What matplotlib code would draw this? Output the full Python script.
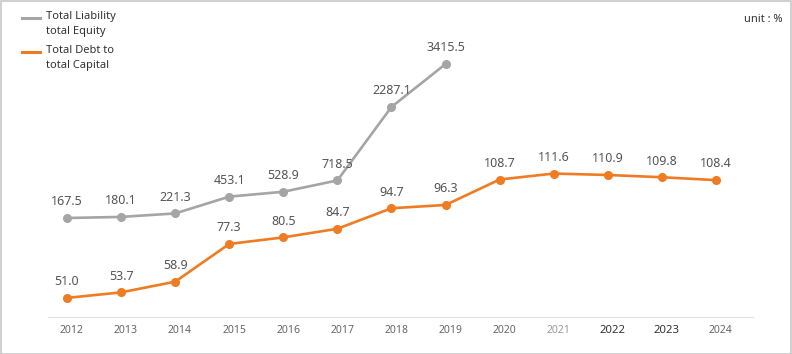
import numpy as np
import matplotlib
matplotlib.use("Agg")
import matplotlib.pyplot as plt
from matplotlib.lines import Line2D
from matplotlib.patches import Rectangle

years = [2012, 2013, 2014, 2015, 2016, 2017, 2018, 2019, 2020, 2021, 2022, 2023, 2024]
liab_years = [2012, 2013, 2014, 2015, 2016, 2017, 2018, 2019]
liab_equity = [167.5, 180.1, 221.3, 453.1, 528.9, 718.5, 2287.1, 3415.5]
debt_capital = [51.0, 53.7, 58.9, 77.3, 80.5, 84.7, 94.7, 96.3, 108.7, 111.6, 110.9, 109.8, 108.4]
year_labels = [str(y) for y in years]

grey = "#a5a5a5"
orange = "#ef7b22"
txt = "#555555"

plt.rcParams['font.family'] = ['Noto Sans', 'DejaVu Sans']

fig = plt.figure(figsize=(7.92, 3.54), dpi=100)
ax = fig.add_axes([48/792, 1-317/354, (753-48)/792, (317-10)/354])
ax2 = ax.twinx()

# orange series on linear axis
ax.plot(years, debt_capital, color=orange, lw=1.9, marker="o", ms=5.5, zorder=3)
for x, v in zip(years, debt_capital):
    ax.annotate(f"{v:.1f}", (x, v), xytext=(0, 7), textcoords="offset points",
                ha="center", va="bottom", fontsize=9, color=txt)
ax.set_ylim(41.7, 191.3)
ax.set_xlim(2011.649, 2024.684)

# grey series on a compressed (power) scale
def fwd(v):
    v = np.asarray(v, dtype=float)
    return np.sign(v) * np.abs(v) ** 0.7

def inv(v):
    v = np.asarray(v, dtype=float)
    return np.sign(v) * np.abs(v) ** (1 / 0.7)

ax2.set_yscale("function", functions=(fwd, inv))
ax2.plot(liab_years, liab_equity, color=grey, lw=1.9, marker="o", ms=5.5, zorder=3)
for x, v in zip(liab_years, liab_equity):
    ax2.annotate(f"{v:.1f}", (x, v), xytext=(0, 7), textcoords="offset points",
                 ha="center", va="bottom", fontsize=9, color=txt)
ax2.set_ylim(-1070, 5014)

for a in (ax, ax2):
    for s in ["top", "right", "left"]:
        a.spines[s].set_visible(False)
    a.set_yticks([])
    a.spines["bottom"].set_color("#e2e2e2")
ax2.spines["bottom"].set_visible(False)

# tick labels sit a little right of the points in the original
ax.set_xticks([y + 0.09 for y in years])
ax.set_xticklabels(year_labels)
ax.tick_params(axis="x", length=0, pad=6, labelsize=7.5, labelcolor="#666666")
for lab, y in zip(ax.get_xticklabels(), years):
    if y == 2021:
        lab.set_color("#9a9a9a")
    if y in (2022, 2023):
        lab.set_color("#333333")
        lab.set_fontsize(8.2)

# legend drawn by hand
fig.add_artist(Line2D([22/792, 40/792], [1-18/354, 1-18/354], color=grey, lw=2.2))
fig.add_artist(Line2D([22/792, 40/792], [1-52/354, 1-52/354], color=orange, lw=2.2))
fig.text(46/792, 1-11/354, "Total Liability\ntotal Equity", fontsize=8, color="#333333",
         va="top", ha="left", linespacing=1.45)
fig.text(46/792, 1-45/354, "Total Debt to\ntotal Capital", fontsize=8, color="#333333",
         va="top", ha="left", linespacing=1.45)
fig.text(782/792, 1-20/354, "unit : %", fontsize=8, color="#333333", ha="right", va="center")

fig.add_artist(Rectangle((0.5/792, 0.5/354), 1-1.5/792, 1-1.5/354, transform=fig.transFigure,
                         fill=False, edgecolor="#c8c8c8", lw=1.2))

fig.savefig("out.png", dpi=100, facecolor="white")
